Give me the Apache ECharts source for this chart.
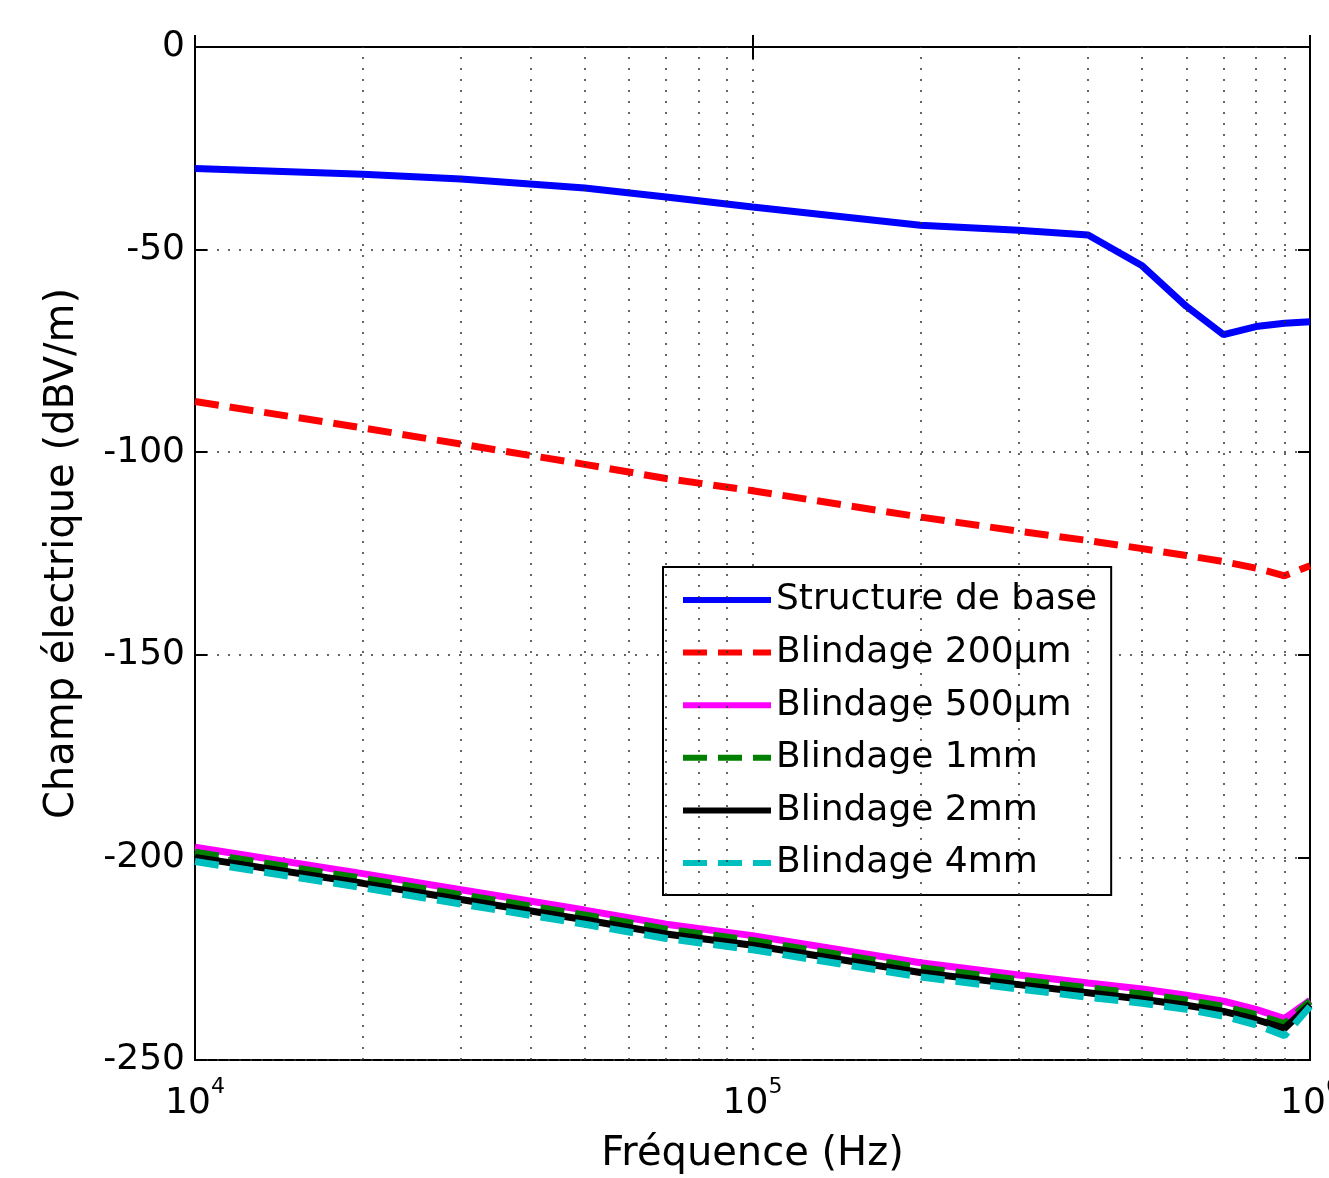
<!DOCTYPE html>
<html>
<head>
<meta charset="utf-8">
<script src="https://cdn.jsdelivr.net/npm/echarts@6/dist/echarts.min.js"></script>
<style>
  html, body { margin: 0; padding: 0; background: #fff; }
  #chart { width: 1329px; height: 1178px; }
</style>
</head>
<body>
<div id="chart"></div>
<script>
// frequencies (Hz) shared by all curves
const freqs = [1e4, 2e4, 3e4, 5e4, 7e4, 1e5, 2e5, 3e5, 4e5, 5e5, 6e5, 7e5, 8e5, 9e5, 1e6];

// champ electrique, dBV/m
const base    = [-30, -31.4, -32.6, -34.8, -37, -39.5, -44, -45.2, -46.4, -54, -64, -71, -69, -68.2, -67.8];
const sh200um = [-87.5, -94, -98, -103, -106.5, -109.5, -116, -119.5, -121.8, -123.8, -125.5, -127, -128.6, -130.5, -128];
const sh500um = [-197.5, -204, -208, -213, -216.5, -219.3, -226, -229, -231, -232.5, -234, -235.5, -237.5, -239.8, -235.3];
const sh1mm   = [-198.7, -205.2, -209.2, -214.2, -217.7, -220.5, -227.2, -230.2, -232.2, -233.7, -235.2, -236.8, -238.8, -241, -235.5];
const sh2mm   = [-200, -206.4, -210.4, -215.4, -218.9, -221.7, -228.4, -231.4, -233.4, -235, -236.5, -238, -240, -242.2, -236.3];
const sh4mm   = [-201, -207.5, -211.5, -216.5, -220, -222.8, -229.5, -232.5, -234.5, -236, -237.5, -239.2, -241.3, -244, -236.8];

const seriesNames = ['Structure de base', 'Blindage 200µm', 'Blindage 500µm', 'Blindage 1mm', 'Blindage 2mm', 'Blindage 4mm'];
const seriesColors = ['#0000ff', '#ff0000', '#ff00ff', '#008000', '#000000', '#00bfbf'];
const seriesDashed = [false, true, false, true, false, true];
const seriesValues = [base, sh200um, sh500um, sh1mm, sh2mm, sh4mm];

// log-decade minor grid positions
const minorFreqs = [2e4, 3e4, 4e4, 5e4, 6e4, 7e4, 8e4, 9e4, 2e5, 3e5, 4e5, 5e5, 6e5, 7e5, 8e5, 9e5];

// y ticks
const yMin = -250, yMax = 0, yStep = 50;

const FONT = "'DejaVu Sans', 'Liberation Sans', sans-serif";
const dotted = { color: '#333', width: 1.5, type: [2, 9] };

const chart = echarts.init(document.getElementById('chart'));

const series = seriesValues.map((vals, i) => ({
  name: seriesNames[i],
  type: 'line',
  data: freqs.map((f, k) => [f, vals[k]]),
  symbol: 'none',
  z: 3 + i,
  lineStyle: { color: seriesColors[i], width: 7, type: seriesDashed[i] ? [24, 11] : 'solid' },
  itemStyle: { color: seriesColors[i] }
}));

// minor vertical grid lines
series.push({
  type: 'line',
  data: [],
  z: 1,
  silent: true,
  markLine: {
    silent: true,
    symbol: 'none',
    label: { show: false },
    lineStyle: dotted,
    data: minorFreqs.map(f => ({ xAxis: f }))
  }
});

chart.setOption({
  animation: false,
  backgroundColor: '#fff',
  textStyle: { fontFamily: FONT },
  grid: {
    left: 195, right: 19, top: 47, bottom: 118,
    outerBoundsMode: 'none', containLabel: false,
    show: true, borderColor: '#000', borderWidth: 2, backgroundColor: 'transparent'
  },
  legend: {
    orient: 'vertical',
    left: 663, top: 567,
    data: seriesNames,
    backgroundColor: '#fff',
    borderColor: '#000', borderWidth: 2, borderRadius: 0,
    padding: [13, 14, 12, 17],
    itemWidth: 88, itemHeight: 14, itemGap: 12.6,
    textStyle: { fontFamily: FONT, fontSize: 36, color: '#000', lineHeight: 40 },
    itemStyle: { opacity: 0 },
    lineStyle: { width: 6, inactiveWidth: 6 }
  },
  xAxis: [{
    type: 'log', logBase: 10, min: 1e4, max: 1e6,
    name: 'Fréquence (Hz)', nameLocation: 'middle', nameGap: 75,
    nameTextStyle: { fontFamily: FONT, fontSize: 40, color: '#000' },
    axisLine: { show: true, lineStyle: { color: '#000', width: 2 } },
    axisTick: { show: true, inside: true, length: 12, lineStyle: { color: '#000', width: 2 } },
    axisLabel: {
      margin: 16,
      formatter: v => '{b|10}{e|' + Math.round(Math.log10(v)) + '}',
      rich: {
        b: { fontFamily: FONT, fontSize: 36, color: '#000', lineHeight: 46, verticalAlign: 'bottom' },
        e: { fontFamily: FONT, fontSize: 22, color: '#000', lineHeight: 46, verticalAlign: 'top' }
      }
    },
    splitLine: { show: true, lineStyle: dotted }
  }, {
    type: 'log', logBase: 10, min: 1e4, max: 1e6, position: 'top',
    axisLine: { show: true, lineStyle: { color: '#000', width: 2 } },
    axisTick: { show: true, inside: true, length: 12, lineStyle: { color: '#000', width: 2 } },
    axisLabel: { show: false },
    splitLine: { show: false }
  }],
  yAxis: [{
    type: 'value', min: yMin, max: yMax, interval: yStep,
    name: 'Champ électrique (dBV/m)', nameLocation: 'middle', nameGap: 112,
    nameTextStyle: { fontFamily: FONT, fontSize: 40, color: '#000' },
    axisLine: { show: true, lineStyle: { color: '#000', width: 2 } },
    axisTick: { show: true, inside: true, length: 12, lineStyle: { color: '#000', width: 2 } },
    axisLabel: { fontFamily: FONT, fontSize: 36, color: '#000', margin: 10, formatter: v => String(v) },
    splitLine: { show: true, lineStyle: dotted }
  }, {
    type: 'value', min: yMin, max: yMax, interval: yStep, position: 'right',
    axisLine: { show: true, lineStyle: { color: '#000', width: 2 } },
    axisTick: { show: true, inside: true, length: 12, lineStyle: { color: '#000', width: 2 } },
    axisLabel: { show: false },
    splitLine: { show: false }
  }],
  series
});
</script>
</body>
</html>
